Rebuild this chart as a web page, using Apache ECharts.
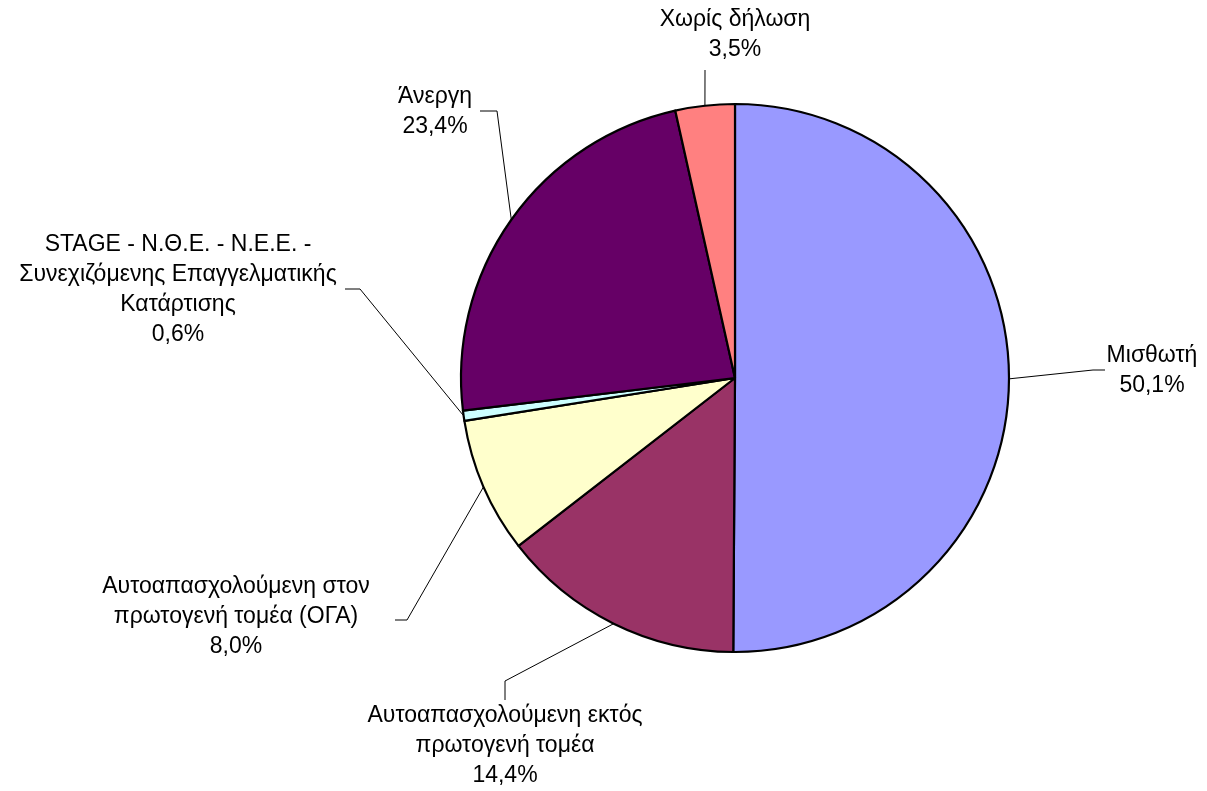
<!DOCTYPE html>
<html>
<head>
<meta charset="utf-8">
<script src="https://cdn.jsdelivr.net/npm/echarts@6/dist/echarts.min.js"></script>
<style>
html,body{margin:0;padding:0;background:#fff;}
#chart{width:1207px;height:791px;}
</style>
</head>
<body>
<div id="chart"></div>
<script>
// Data
const categories = [
  'Μισθωτή',
  'Αυτοαπασχολούμενη εκτός\nπρωτογενή τομέα',
  'Αυτοαπασχολούμενη στον\nπρωτογενή τομέα (ΟΓΑ)',
  'STAGE - Ν.Θ.Ε. - Ν.Ε.Ε. -\nΣυνεχιζόμενης Επαγγελματικής\nΚατάρτισης',
  'Άνεργη',
  'Χωρίς δήλωση'
];
const values = [50.1, 14.4, 8.0, 0.6, 23.4, 3.5];
const colors = ['#9999FF', '#993366', '#FFFFCC', '#CCFFFF', '#660066', '#FF8080'];

// Label layout (label centre, elbow of leader line, end of leader line)
const labelPlacement = [
  {x: 1152, y: 371, knee: [1093, 370], end: [1105, 370]},
  {x: 505, y: 746, knee: [505, 681], end: [505, 700]},
  {x: 236, y: 617, knee: [407, 620], end: [395, 620]},
  {x: 178, y: 290, knee: [360, 289], end: [345, 289]},
  {x: 435, y: 112, knee: [497, 111], end: [480, 111]},
  {x: 735, y: 35, knee: [705, 70], end: [705, 70]}
];

const chart = echarts.init(document.getElementById('chart'), null, {renderer: 'canvas'});
const fontFamily = '"Liberation Sans", Arial, Helvetica, sans-serif';

chart.setOption({
  animation: false,
  backgroundColor: '#ffffff',
  series: [{
    type: 'pie',
    center: [735, 378],
    radius: 274,
    startAngle: 90,
    clockwise: true,
    avoidLabelOverlap: false,
    data: categories.map((c, i) => ({
      name: c,
      value: values[i],
      itemStyle: {color: colors[i]}
    })),
    itemStyle: {borderColor: '#000', borderWidth: 2.2},
    label: {
      show: true,
      position: 'outside',
      color: '#000',
      fontFamily: fontFamily,
      fontSize: 23,
      lineHeight: 30,
      align: 'center',
      formatter: p => p.name + '\n' + values[p.dataIndex].toFixed(1).replace('.', ',') + '%'
    },
    labelLine: {
      show: true,
      length: 20,
      length2: 10,
      lineStyle: {color: '#000', width: 1}
    },
    labelLayout: function (params) {
      const lp = labelPlacement[params.dataIndex];
      const anchor = params.labelLinePoints ? params.labelLinePoints[0] : lp.knee;
      return {
        x: lp.x,
        y: lp.y,
        align: 'center',
        verticalAlign: 'middle',
        labelLinePoints: [anchor, lp.knee, lp.end]
      };
    },
    emphasis: {disabled: true}
  }]
});
</script>
</body>
</html>
